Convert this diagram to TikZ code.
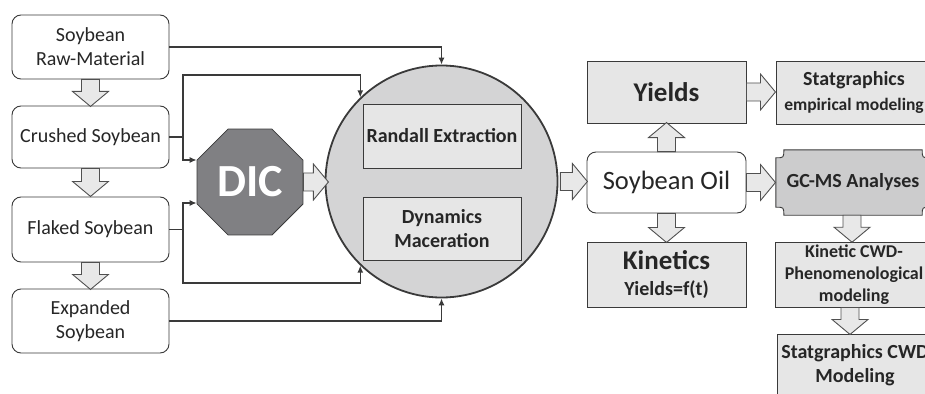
\documentclass[tikz,border=0pt]{standalone}
\usepackage{fontspec}
\setmainfont{Carlito}
\usetikzlibrary{shapes.geometric,arrows.meta,calc,backgrounds}
\definecolor{ln}{HTML}{3A3A3A}
\definecolor{txt}{HTML}{262626}
\definecolor{boxg}{HTML}{E6E6E6}
\definecolor{circg}{HTML}{D4D4D5}
\definecolor{gcg}{HTML}{CCCCCD}
\definecolor{dicg}{HTML}{808083}
\definecolor{arrg}{HTML}{E8E8E8}
\definecolor{arrl}{HTML}{505050}
\tikzset{
  rbox/.style={draw=ln, line width=0.9pt, rounded corners=9pt, fill=white,
    minimum width=157pt, minimum height=64pt, align=center, inner sep=0pt,
    text=txt, font=\fontsize{20}{24}\selectfont},
  gbox/.style={draw=ln, line width=0.9pt, fill=boxg, minimum width=158pt,
    minimum height=63pt, align=center, inner sep=0pt, text=txt},
  conn/.style={draw=ln, line width=1.3pt, -{Latex[length=7pt,width=6pt]}},
  barr/.style={draw=arrl, fill=arrg, line width=0.9pt, line join=miter},
  pics/darr/.style={code={\draw[barr] (-9,0) -- (-9,#1-15) -- (-18,#1-15) -- (0,#1) -- (18,#1-15) -- (9,#1-15) -- (9,0) -- cycle;}},
  pics/uarr/.style={code={\draw[barr] (-9,0) -- (-9,-#1+15) -- (-18,-#1+15) -- (0,-#1) -- (18,-#1+15) -- (9,-#1+15) -- (9,0) -- cycle;}},
  pics/rarr/.style={code={\draw[barr] (0,-9) -- (#1-15,-9) -- (#1-15,-18) -- (#1,0) -- (#1-15,18) -- (#1-15,9) -- (0,9) -- cycle;}},
}
\begin{document}
\begin{tikzpicture}[x=1pt,y=-1pt]
\useasboundingbox (0,0) rectangle (925,393);
\clip (0,0) rectangle (925,393);

% left column
\node[rbox] (raw) at (90.5,47) {Soybean\\Raw-Material};
\node[rbox, minimum height=62pt] (crushed) at (90.5,137) {Crushed Soybean};
\node[rbox, minimum height=65pt] (flaked) at (90.5,229.5) {Flaked Soybean};
\node[rbox] (expanded) at (90.5,321) {Expanded\\Soybean};

% DIC
\node[regular polygon, regular polygon sides=8, minimum size=114.7pt, inner sep=0pt,
  fill=dicg, draw=ln, line width=0.8pt, text=white,
  font=\bfseries\fontsize{46}{46}\selectfont] (dic) at (250,182) {DIC};

% circle with extraction methods
\node[circle, minimum size=232pt, inner sep=0pt, fill=circg, draw=ln, line width=1.8pt] (circ) at (441.5,181.5) {};
\node[gbox, minimum height=64pt, font=\bfseries\fontsize{20}{24}\selectfont] (randall) at (442,136) {Randall Extraction};
\node[gbox, font=\bfseries\fontsize{20}{24}\selectfont] (dyn) at (442,228.5) {Dynamics\\Maceration};

% middle-right column
\node[rbox, minimum width=159pt, minimum height=61pt, font=\fontsize{26.5}{30}\selectfont] (oil) at (666.5,182.5) {Soybean Oil};
\node[gbox, minimum width=159pt, minimum height=62pt, font=\bfseries\fontsize{27}{30}\selectfont] (yields) at (666.5,92) {Yields};
\node[gbox, minimum width=159pt, minimum height=65pt, font=\bfseries\fontsize{20}{26}\selectfont] (kin) at (666.5,274.5)
  {{\fontsize{27}{29}\selectfont Kinetics}\\Yields=f(t)};

% right column
\node[gbox, minimum width=156pt, minimum height=63pt, font=\bfseries\fontsize{17.5}{25}\selectfont] (stat1) at (854,92.5)
  {{\fontsize{20}{24}\selectfont Statgraphics}\\empirical modeling};
\node[inner sep=0pt, minimum width=154pt, minimum height=65pt, text=txt,
  font=\bfseries\fontsize{20}{24}\selectfont] (gcms) at (853,182.5) {GC-MS Analyses};
\begin{scope}[on background layer]
\path[fill=gcg, draw=ln, line width=0.9pt]
  ($(gcms.north west)+(0,8)$) .. controls ($(gcms.north west)+(8,8)$) .. ($(gcms.north west)+(8,0)$)
  -- ($(gcms.north east)+(-8,0)$) .. controls ($(gcms.north east)+(-8,8)$) .. ($(gcms.north east)+(0,8)$)
  -- ($(gcms.south east)+(0,-8)$) .. controls ($(gcms.south east)+(-8,-8)$) .. ($(gcms.south east)+(-8,0)$)
  -- ($(gcms.south west)+(8,0)$) .. controls ($(gcms.south west)+(8,-8)$) .. ($(gcms.south west)+(0,-8)$)
  -- cycle;
\end{scope}
\node[gbox, minimum width=158pt, minimum height=65pt, font=\bfseries\fontsize{18}{22}\selectfont] (kcwd) at (854,274.5)
  {Kinetic CWD-\\Phenomenological\\modeling};
\node[gbox, minimum width=156pt, minimum height=62pt, font=\bfseries\fontsize{20}{24}\selectfont] (scwd) at (855,365)
  {Statgraphics CWD\\Modeling};

% connectors
\coordinate (j1) at (183,137);
\coordinate (j2) at (183,229.5);
\coordinate (ytop) at (0,75);
\coordinate (ybot) at (0,283);
\draw[conn] (raw.east) -| (circ.north);
\draw[line width=1.3pt, draw=ln] (crushed.east) -- (j1);
\draw[conn] (j1) |- (circ.134 |- ytop) -- (circ.134);
\draw[conn] (j1) |- ($(dic.west)+(0,-22)$);
\draw[line width=1.3pt, draw=ln] (flaked.east) -- (j2);
\draw[conn] (j2) |- ($(dic.west)+(0,21)$);
\draw[conn] (j2) |- (circ.226 |- ybot) -- (circ.226);
\draw[conn] (expanded.east) -| (circ.south);

% block arrows
\pic at (raw.south) {darr=27};
\pic at (crushed.south) {darr=28};
\pic at (flaked.south) {darr=27};
\pic at (dic.east) {rarr=25};
\pic at ($(circ.east)+(2,0)$) {rarr=27};
\pic at (oil.north) {uarr=29};
\pic at (oil.south) {darr=29};
\pic at (yields.east) {rarr=29};
\pic at (oil.east) {rarr=29};
\pic at ($(gcms.south)+(-1,0)$) {darr=27};
\pic at ($(kcwd.south)+(-4,0)$) {darr=27};
\end{tikzpicture}
\end{document}
